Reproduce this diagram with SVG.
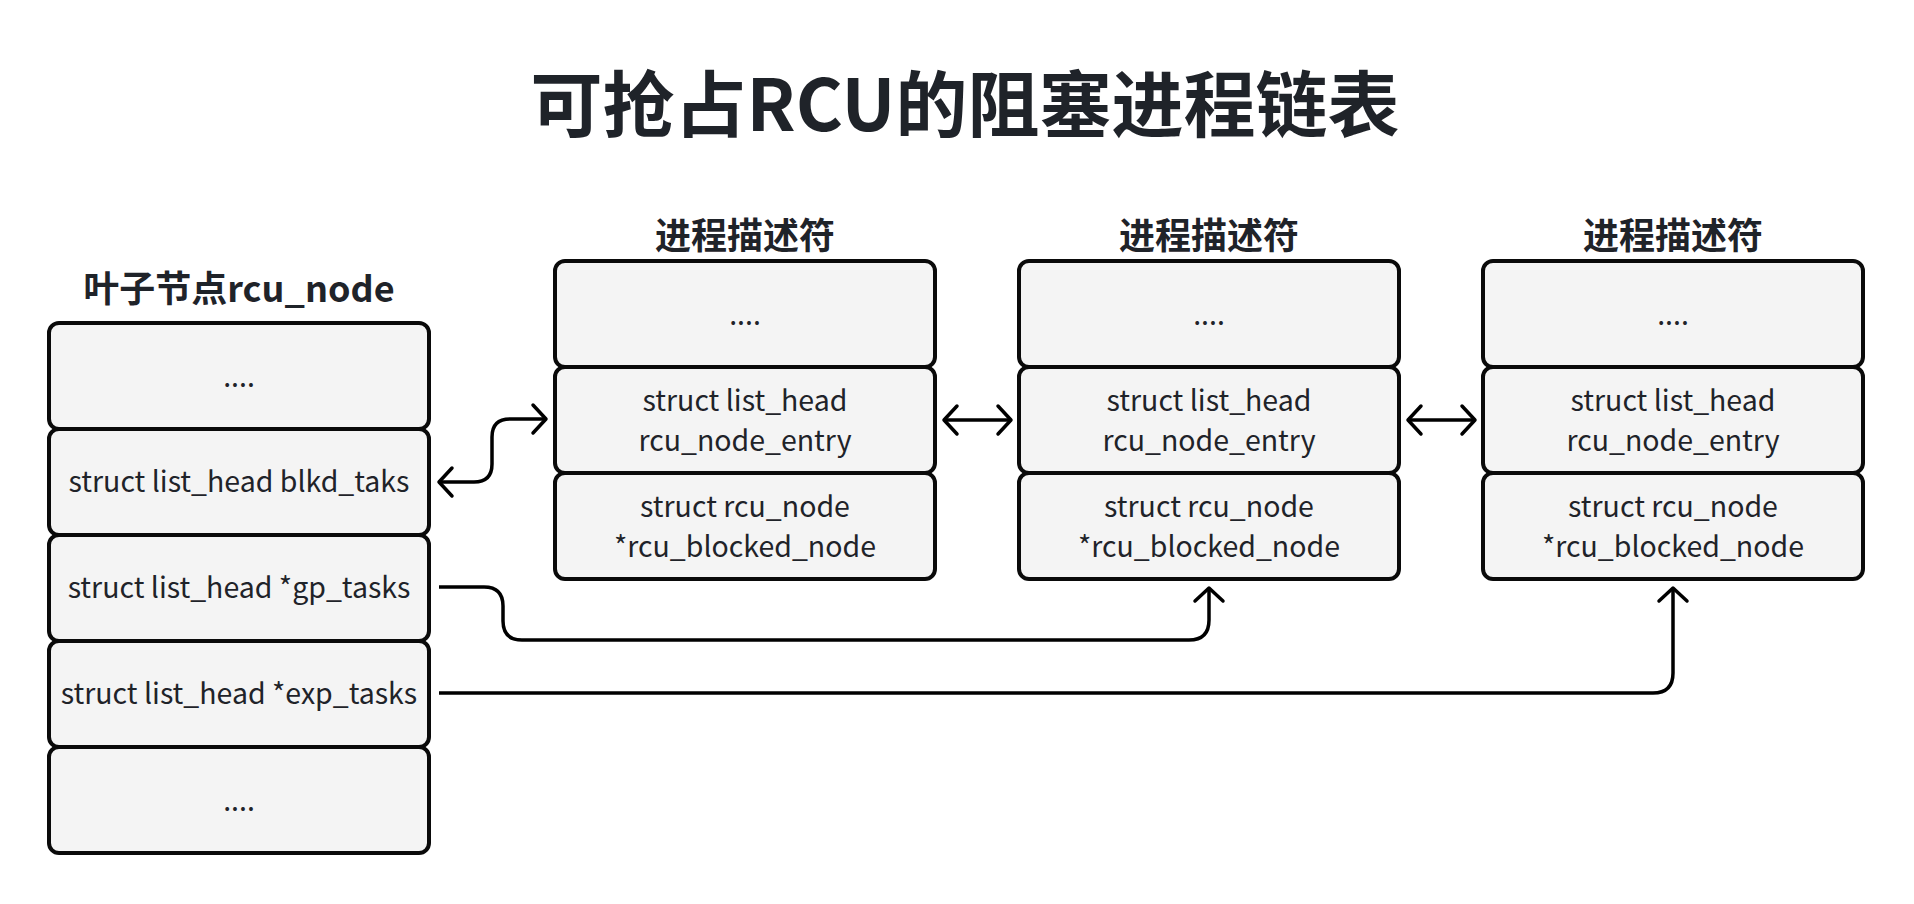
<svg xmlns="http://www.w3.org/2000/svg" width="1914" height="904" viewBox="0 0 1914 904">
<style>
.bg{fill:#ffffff}
.box{fill:#f4f4f4;stroke:#0a0a0a;stroke-width:4}
.t{font-family:"Noto Sans CJK SC","Noto Sans",sans-serif;font-size:28.5px;fill:#1f2329;text-anchor:middle}
.h{font-family:"Noto Sans CJK SC","Noto Sans",sans-serif;font-size:36px;font-weight:700;fill:#1f2329;text-anchor:middle}
.title{font-family:"Noto Sans CJK SC","Noto Sans",sans-serif;font-size:72px;font-weight:700;fill:#1f2329;text-anchor:middle}
.c{fill:none;stroke:#000000;stroke-width:3.5;stroke-linejoin:round}
</style>
<defs>
<marker id="arr" markerUnits="userSpaceOnUse" markerWidth="40" markerHeight="40" viewBox="-20 -20 40 40" refX="0" refY="0" orient="auto-start-reverse">
<path d="M -13 -14 L 0 0 L -13 14" fill="none" stroke="#000000" stroke-width="3.5" stroke-linecap="round" stroke-linejoin="round"/>
</marker>
</defs>
<rect class="bg" x="0" y="0" width="1914" height="904"/>
<text class="title" x="965" y="131">可抢占RCU的阻塞进程链表</text>

<g id="rcu_node">
<text class="h" x="239" y="302">叶子节点rcu_node</text>
<rect class="box" x="49" y="323" width="380" height="106" rx="10"/>
<text class="t" x="239" y="387">....</text>
<rect class="box" x="49" y="429" width="380" height="106" rx="10"/>
<text class="t" x="239" y="492">struct list_head blkd_taks</text>
<rect class="box" x="49" y="535" width="380" height="106" rx="10"/>
<text class="t" x="239" y="598">struct list_head *gp_tasks</text>
<rect class="box" x="49" y="641" width="380" height="106" rx="10"/>
<text class="t" x="239" y="704">struct list_head *exp_tasks</text>
<rect class="box" x="49" y="747" width="380" height="106" rx="10"/>
<text class="t" x="239" y="811">....</text>
</g>

<g id="task1">
<text class="h" x="745" y="249">进程描述符</text>
<rect class="box" x="555" y="261" width="380" height="106" rx="10"/>
<text class="t" x="745" y="325">....</text>
<rect class="box" x="555" y="367" width="380" height="106" rx="10"/>
<text class="t" x="745" y="411">struct list_head</text>
<text class="t" x="745" y="451">rcu_node_entry</text>
<rect class="box" x="555" y="473" width="380" height="106" rx="10"/>
<text class="t" x="745" y="517">struct rcu_node</text>
<text class="t" x="745" y="557">*rcu_blocked_node</text>
</g>

<g id="task2">
<text class="h" x="1209" y="249">进程描述符</text>
<rect class="box" x="1019" y="261" width="380" height="106" rx="10"/>
<text class="t" x="1209" y="325">....</text>
<rect class="box" x="1019" y="367" width="380" height="106" rx="10"/>
<text class="t" x="1209" y="411">struct list_head</text>
<text class="t" x="1209" y="451">rcu_node_entry</text>
<rect class="box" x="1019" y="473" width="380" height="106" rx="10"/>
<text class="t" x="1209" y="517">struct rcu_node</text>
<text class="t" x="1209" y="557">*rcu_blocked_node</text>
</g>

<g id="task3">
<text class="h" x="1673" y="249">进程描述符</text>
<rect class="box" x="1483" y="261" width="380" height="106" rx="10"/>
<text class="t" x="1673" y="325">....</text>
<rect class="box" x="1483" y="367" width="380" height="106" rx="10"/>
<text class="t" x="1673" y="411">struct list_head</text>
<text class="t" x="1673" y="451">rcu_node_entry</text>
<rect class="box" x="1483" y="473" width="380" height="106" rx="10"/>
<text class="t" x="1673" y="517">struct rcu_node</text>
<text class="t" x="1673" y="557">*rcu_blocked_node</text>
</g>

<g id="connectors">
<path class="c" d="M 439 482 H 474 Q 492 482 492 464 V 437 Q 492 419 510 419 H 546" marker-start="url(#arr)" marker-end="url(#arr)"/>
<path class="c" d="M 944 420 H 1011" marker-start="url(#arr)" marker-end="url(#arr)"/>
<path class="c" d="M 1408 420 H 1475" marker-start="url(#arr)" marker-end="url(#arr)"/>
<path class="c" d="M 439 587 H 484 Q 503 587 503 606 V 621 Q 503 640 522 640 H 1189 Q 1209 640 1209 620 V 588" marker-end="url(#arr)"/>
<path class="c" d="M 439 693 H 1653 Q 1673 693 1673 673 V 588" marker-end="url(#arr)"/>
</g>
</svg>
